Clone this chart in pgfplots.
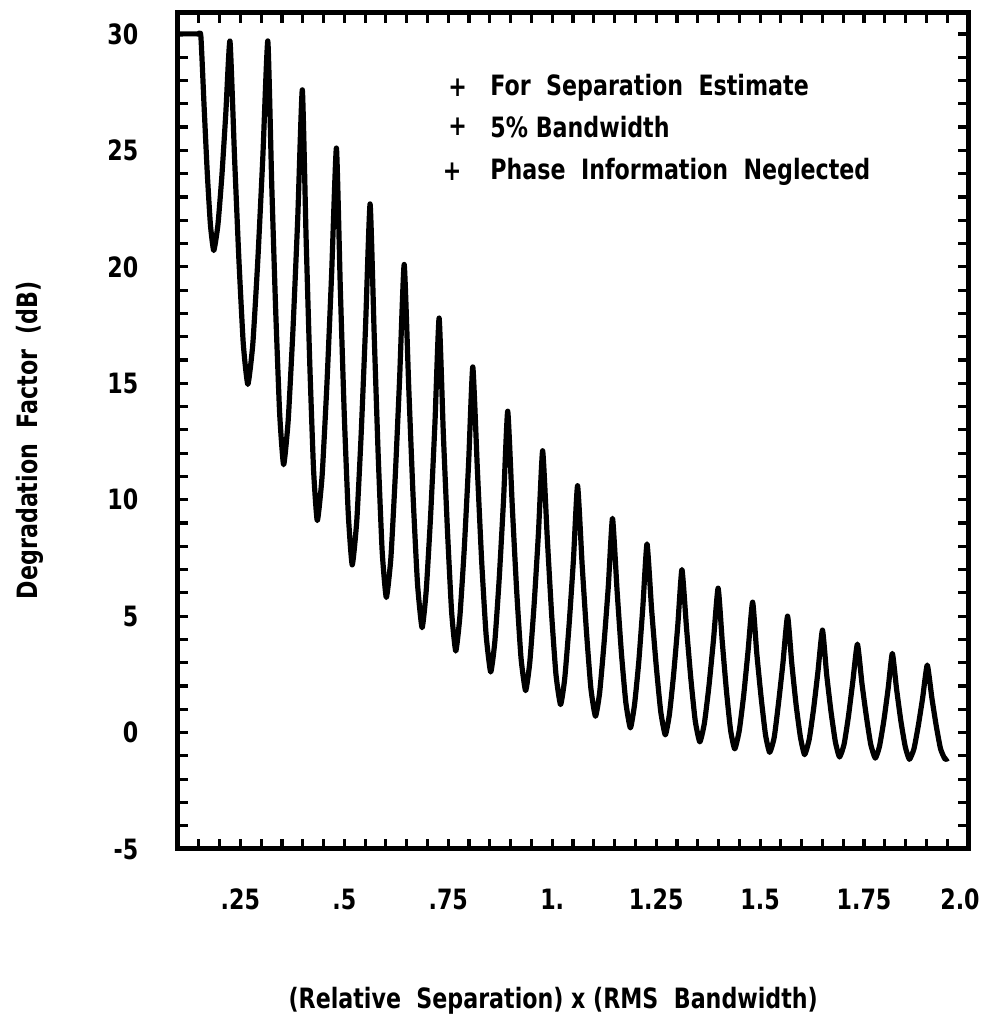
\documentclass[border=0pt]{standalone}
\usepackage{fontspec}
\setmainfont{DejaVu Sans Condensed}[FakeStretch=0.88]
\usepackage{pgfplots}
\pgfplotsset{compat=1.18}
\begin{document}
\fontsize{14}{16}\selectfont\bfseries
\begin{tikzpicture}
\path[use as bounding box] (0,0) rectangle (493pt,513.5pt);
\begin{axis}[
  at={(89pt,89pt)}, anchor=south west,
  scale only axis, width=395pt, height=418pt,
  xmin=0.1, xmax=2.0, ymin=-5, ymax=30.9,
  axis line style={line width=2.5pt},
  tick align=inside,
  xtick={0.25,0.5,0.75,1.0,1.25,1.5,1.75,2.0},
  xticklabels={.25,.5,.75,1.,1.25,1.5,1.75,\hspace*{-8pt}2.0},
  minor xtick={0.1,0.15,0.2,0.25,0.3,0.35,0.4,0.45,0.5,0.55,0.6,0.65,0.7,0.75,0.8,0.85,0.9,0.95,1.0,1.05,1.1,1.15,1.2,1.25,1.3,1.35,1.4,1.45,1.5,1.55,1.6,1.65,1.7,1.75,1.8,1.85,1.9,1.95},
  ytick={-5,0,5,10,15,20,25,30},
  yticklabels={-5,0,5,10,15,20,25,30},
  minor ytick={-5,-4,...,30},
  major tick length=5pt, minor tick length=5pt,
  every tick/.style={line width=1.6pt, black},
  xticklabel style={yshift=-15pt},
  yticklabel style={xshift=-15pt},
  xlabel={(Relative~ Separation) x (RMS~ Bandwidth)},
  ylabel={Degradation~ Factor~ (dB)},
  xlabel style={at={(axis description cs:0.475,-0.181)}, anchor=center},
  ylabel style={at={(axis description cs:-0.187,0.489)}, anchor=center},
]
\addplot[black, line width=2.6pt, line join=round, smooth, tension=0.3] coordinates {
(0.102,30) (0.148,30) (0.155,29.9)
(0.163,26.8) (0.1705,24.0) (0.178,21.8)
(0.186,20.7)
(0.196,21.8) (0.2055,23.9) (0.215,26.6)
(0.225,29.7)
(0.236,24.7) (0.2465,20.3) (0.257,16.7)
(0.268,14.95)
(0.280,16.7) (0.292,20.3) (0.304,24.7)
(0.316,29.7)
(0.3255,23.5) (0.335,18.1) (0.3445,13.7)
(0.354,11.5)
(0.365,13.4) (0.3765,17.3) (0.388,22.1)
(0.399,27.6)
(0.408,21.3) (0.417,15.8) (0.426,11.3)
(0.435,9.1)
(0.4465,11.0) (0.458,14.9) (0.4695,19.7)
(0.481,25.1)
(0.4905,19.0) (0.500,13.6) (0.5095,9.4)
(0.519,7.2)
(0.530,9.1) (0.5405,12.8) (0.551,17.4)
(0.562,22.7)
(0.572,17.0) (0.5815,11.9) (0.591,7.8)
(0.601,5.8)
(0.612,7.5) (0.6225,11.0) (0.633,15.2)
(0.644,20.1)
(0.655,14.8) (0.6655,10.1) (0.676,6.4)
(0.687,4.5)
(0.697,6.1) (0.7075,9.3) (0.718,13.3)
(0.728,17.8)
(0.738,12.9) (0.748,8.7) (0.758,5.2)
(0.768,3.5)
(0.778,5.0) (0.7885,7.9) (0.799,11.6)
(0.809,15.7)
(0.820,11.3) (0.8305,7.3) (0.841,4.2)
(0.852,2.6)
(0.862,3.9) (0.8725,6.6) (0.883,10.0)
(0.893,13.8)
(0.904,9.7) (0.9145,6.1) (0.925,3.2)
(0.936,1.8)
(0.946,3.0) (0.9565,5.5) (0.967,8.6)
(0.977,12.1)
(0.988,8.4) (0.9985,5.1) (1.009,2.5)
(1.020,1.2)
(1.030,2.3) (1.0405,4.6) (1.051,7.4)
(1.061,10.6)
(1.072,7.2) (1.0825,4.3) (1.093,1.9)
(1.104,0.7)
(1.114,1.7) (1.1245,3.8) (1.135,6.3)
(1.145,9.2)
(1.156,6.1) (1.1665,3.4) (1.177,1.3)
(1.188,0.2)
(1.198,1.2) (1.208,3.0) (1.218,5.4)
(1.228,8.1)
(1.239,5.3) (1.250,2.9) (1.261,0.9)
(1.272,-0.1)
(1.282,0.8) (1.292,2.5) (1.302,4.6)
(1.312,7.0)
(1.323,4.5) (1.3335,2.3) (1.344,0.5)
(1.355,-0.4)
(1.366,0.4) (1.377,2.0) (1.388,4.0)
(1.399,6.2)
(1.409,3.9) (1.419,1.8) (1.429,0.1)
(1.439,-0.7)
(1.450,0.1) (1.4605,1.6) (1.471,3.5)
(1.482,5.6)
(1.492,3.4) (1.5025,1.5) (1.513,-0.1)
(1.523,-0.85)
(1.534,-0.2) (1.5445,1.3) (1.555,3.0)
(1.566,5.0)
(1.576,3.0) (1.5865,1.2) (1.597,-0.2)
(1.607,-0.95)
(1.618,-0.3) (1.6285,1.0) (1.639,2.6)
(1.650,4.4)
(1.660,2.5) (1.6705,0.9) (1.681,-0.4)
(1.691,-1.05)
(1.702,-0.5) (1.7125,0.7) (1.723,2.2)
(1.734,3.8)
(1.745,2.1) (1.7555,0.7) (1.766,-0.5)
(1.777,-1.1)
(1.787,-0.6) (1.7975,0.5) (1.808,1.9)
(1.818,3.4)
(1.828,1.9) (1.8385,0.5) (1.849,-0.6)
(1.859,-1.15)
(1.870,-0.7) (1.8805,0.3) (1.891,1.5)
(1.902,2.9)
(1.913,1.5) (1.9235,0.3) (1.934,-0.7)
(1.945,-1.15) (1.952,-1.1)
};
\node[inner sep=0pt, anchor=center] at (rel axis cs:0.354,0.911) {+};
\node[inner sep=0pt, anchor=west] at (rel axis cs:0.395,0.911) {For~ Separation~ Estimate};
\node[inner sep=0pt, anchor=center] at (rel axis cs:0.354,0.864) {+};
\node[inner sep=0pt, anchor=west] at (rel axis cs:0.395,0.864) {5\% Bandwidth};
\node[inner sep=0pt, anchor=center] at (rel axis cs:0.347,0.810) {+};
\node[inner sep=0pt, anchor=west] at (rel axis cs:0.395,0.810) {Phase~ Information~ Neglected};
\end{axis}
\end{tikzpicture}
\end{document}
